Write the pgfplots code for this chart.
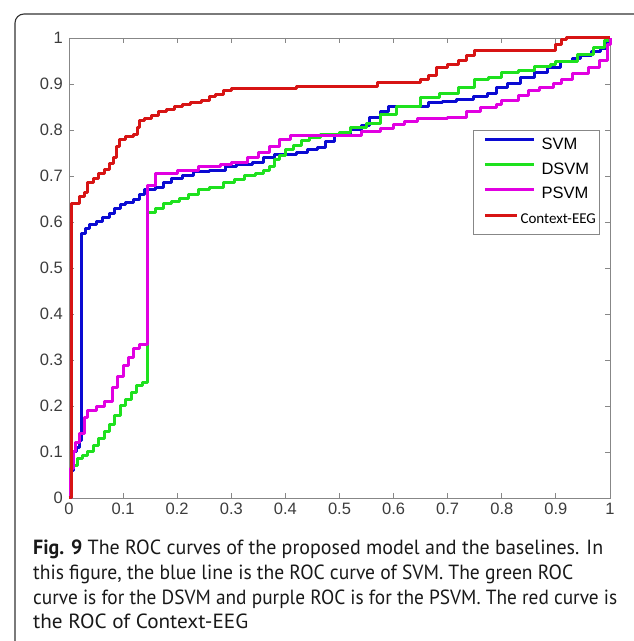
\documentclass[border=0pt]{standalone}
\usepackage{pgfplots}
\pgfplotsset{compat=1.18}
\usepackage{graphicx}
\usepackage{fontspec}
\setmainfont{PT Sans}
\newfontfamily\arial{Liberation Sans}
\newfontfamily\calibri{Carlito}
\definecolor{cblue}{RGB}{10,10,210}
\definecolor{cgreen}{RGB}{30,225,30}
\definecolor{cmag}{RGB}{225,0,225}
\definecolor{cred}{RGB}{215,20,20}
\definecolor{axgray}{RGB}{135,135,135}
\definecolor{tickgray}{RGB}{60,60,60}
\definecolor{captext}{RGB}{25,25,25}
\definecolor{frame}{RGB}{50,50,50}
\pgfplotsset{
  longleg/.style={legend image code/.code={\draw[##1,line width=3pt] (0pt,5.5pt) -- (49pt,5.5pt);}},
  shortleg/.style={legend image code/.code={\draw[##1,line width=3pt] (0pt,4.5pt) -- (32pt,4.5pt);}},
}
\begin{document}
\begin{tikzpicture}[x=1pt,y=1pt]
\begin{axis}[
  at={(69pt,143pt)}, anchor=south west,
  scale only axis, width=541pt, height=460pt,
  xmin=0, xmax=1, ymin=0, ymax=1,
  xtick={0,0.1,0.2,0.3,0.4,0.5,0.6,0.7,0.8,0.9,1},
  xticklabels={0,0.1,0.2,0.3,0.4,0.5,0.6,0.7,0.8,0.9,1},
  ytick={0,0.1,0.2,0.3,0.4,0.5,0.6,0.7,0.8,0.9,1},
  yticklabels={0,0.1,0.2,0.3,0.4,0.5,0.6,0.7,0.8,0.9,1},
  /pgf/number format/assume math mode=true,
  tick align=inside, major tick length=5pt,
  xtick pos=both, ytick pos=both,
  axis line style={draw=axgray, line width=0.9pt},
  every tick/.style={draw=axgray, line width=0.9pt},
  tick label style={font=\arial\fontsize{16.5}{18}\selectfont, text=tickgray},
  xticklabel style={inner sep=0pt, yshift=-5pt},
  yticklabel style={inner sep=0pt, xshift=-6pt},
  clip=false,
  legend style={at={(0.747,0.800)}, anchor=north west, draw=axgray, line width=0.9pt, fill=white,
    inner xsep=10pt, inner ysep=7pt, row sep=8.7pt, column sep=6pt,
    nodes={inner sep=0pt, text height=12pt, text depth=4pt}},
  legend cell align=left,
]
\addplot[cblue, longleg, line width=3pt, const plot, line join=round] coordinates {
(0,0) (0.004,0.06) (0.008,0.1) (0.014,0.11) (0.02,0.125) (0.024,0.575) (0.03,0.585) (0.038,0.595)
(0.05,0.6) (0.062,0.61) (0.075,0.618) (0.085,0.63) (0.095,0.637) (0.105,0.643) (0.12,0.648)
(0.13,0.66) (0.14,0.67) (0.16,0.676) (0.175,0.685) (0.19,0.695) (0.21,0.702) (0.23,0.709)
(0.26,0.713) (0.29,0.72) (0.31,0.725) (0.34,0.73) (0.36,0.74) (0.38,0.746) (0.42,0.75)
(0.44,0.757) (0.46,0.762) (0.475,0.774) (0.49,0.789) (0.52,0.8) (0.54,0.81) (0.556,0.828)
(0.575,0.84) (0.59,0.85) (0.64,0.852) (0.665,0.859) (0.69,0.862) (0.717,0.867) (0.747,0.873)
(0.773,0.88) (0.79,0.893) (0.81,0.9) (0.834,0.915) (0.86,0.925) (0.884,0.935) (0.908,0.948)
(0.93,0.955) (0.945,0.963) (0.965,0.97) (0.982,0.978) (0.995,0.99) (1,1)
};
\addlegendentry{\arial\fontsize{16.5}{18}\selectfont SVM}
\addplot[cgreen, longleg, line width=3pt, const plot, line join=round] coordinates {
(0,0) (0.002,0.04) (0.005,0.07) (0.015,0.085) (0.025,0.092) (0.035,0.1) (0.045,0.115) (0.055,0.13)
(0.065,0.145) (0.075,0.16) (0.085,0.18) (0.095,0.2) (0.105,0.215) (0.115,0.23) (0.125,0.245)
(0.135,0.25) (0.145,0.62) (0.16,0.63) (0.175,0.64) (0.19,0.645) (0.205,0.652) (0.22,0.66)
(0.24,0.67) (0.26,0.675) (0.285,0.685) (0.305,0.692) (0.325,0.7) (0.345,0.706) (0.36,0.713)
(0.37,0.72) (0.38,0.735) (0.39,0.745) (0.4,0.757) (0.415,0.767) (0.43,0.777) (0.445,0.783)
(0.465,0.79) (0.5,0.795) (0.52,0.806) (0.55,0.815) (0.575,0.833) (0.605,0.85) (0.645,0.852)
(0.65,0.87) (0.685,0.88) (0.72,0.893) (0.75,0.909) (0.775,0.915) (0.8,0.925) (0.83,0.93)
(0.86,0.937) (0.89,0.942) (0.9,0.948) (0.94,0.965) (0.97,0.98) (0.99,0.995) (1,1)
};
\addlegendentry{\arial\fontsize{16.5}{18}\selectfont DSVM}
\addplot[cmag, longleg, line width=3pt, const plot, line join=round] coordinates {
(0,0) (0.003,0.065) (0.008,0.1) (0.012,0.12) (0.02,0.14) (0.028,0.175) (0.035,0.19) (0.05,0.198)
(0.065,0.21) (0.08,0.24) (0.09,0.265) (0.1,0.288) (0.11,0.305) (0.12,0.325) (0.13,0.333)
(0.145,0.68) (0.16,0.705) (0.2,0.713) (0.24,0.72) (0.28,0.725) (0.3,0.73) (0.33,0.74)
(0.35,0.752) (0.37,0.765) (0.39,0.78) (0.41,0.787) (0.5,0.789) (0.54,0.796) (0.575,0.804)
(0.6,0.811) (0.62,0.818) (0.645,0.824) (0.7,0.828) (0.735,0.84) (0.76,0.848) (0.79,0.855)
(0.8,0.865) (0.83,0.875) (0.85,0.885) (0.87,0.892) (0.895,0.9) (0.91,0.91) (0.93,0.922)
(0.96,0.935) (0.98,0.952) (0.995,0.985) (1,1)
};
\addlegendentry{\arial\fontsize{16.5}{18}\selectfont PSVM}
\addplot[cred, shortleg, line width=3pt, const plot, line join=round] coordinates {
(0,0) (0.004,0.64) (0.02,0.655) (0.028,0.665) (0.035,0.685) (0.045,0.695) (0.055,0.705)
(0.065,0.715) (0.075,0.728) (0.082,0.74) (0.088,0.765) (0.093,0.78) (0.105,0.785) (0.12,0.79)
(0.127,0.805) (0.13,0.82) (0.14,0.826) (0.152,0.832) (0.165,0.84) (0.18,0.845) (0.195,0.85)
(0.21,0.855) (0.225,0.86) (0.245,0.865) (0.26,0.872) (0.27,0.878) (0.285,0.885) (0.3,0.891)
(0.421,0.895) (0.571,0.903) (0.65,0.91) (0.665,0.918) (0.68,0.935) (0.7,0.942) (0.72,0.95)
(0.735,0.962) (0.75,0.972) (0.9,0.985) (0.91,0.996) (0.92,1) (1,1)
};
\addlegendentry{\calibri\fontsize{15}{17}\selectfont\hspace*{-21pt}Context-EEG\hspace*{-13pt}}
\end{axis}
\draw[line width=1.1pt, draw=frame, rounded corners=9pt] (700pt,627pt) -- (15pt,627pt) -- (15pt,-60pt);
\begin{scope}[every node/.style={anchor=base west, inner sep=0pt, text=captext, font=\fontsize{20.5}{24}\selectfont}]
\node at (33pt,86pt) {\resizebox{570pt}{\height}{\textbf{Fig. 9} The ROC curves of the proposed model and the baselines. In}};
\node at (33pt,61.5pt) {\resizebox{540pt}{\height}{this figure, the blue line is the ROC curve of SVM. The green ROC}};
\node at (33pt,37pt) {\resizebox{584pt}{\height}{curve is for the DSVM and purple ROC is for the PSVM. The red curve is}};
\node at (33pt,12.5pt) {\resizebox{215pt}{\height}{the ROC of Context-EEG}};
\end{scope}
\pgfresetboundingbox
\useasboundingbox (0pt,0pt) rectangle (634pt,641pt);
\end{tikzpicture}
\end{document}
